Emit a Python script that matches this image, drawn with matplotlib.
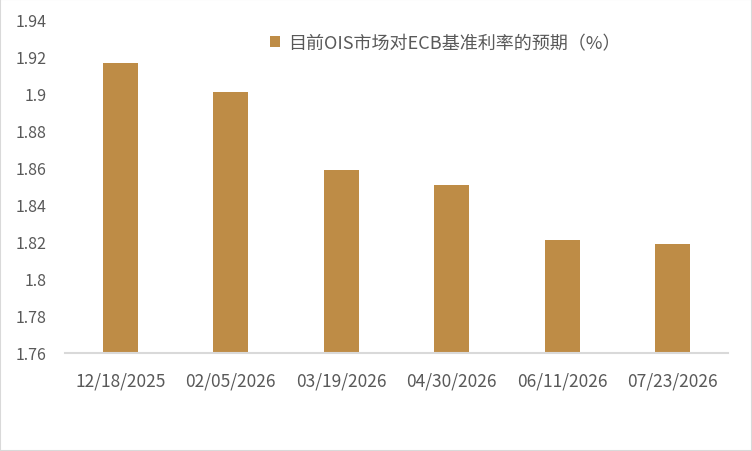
import matplotlib
matplotlib.use("Agg")
import matplotlib.pyplot as plt
from matplotlib.patches import Rectangle

plt.rcParams['font.family'] = ['Noto Sans CJK SC', 'DejaVu Sans']

categories = ["12/18/2025", "02/05/2026", "03/19/2026", "04/30/2026", "06/11/2026", "07/23/2026"]
values = [1.917, 1.901, 1.859, 1.851, 1.821, 1.819]
series_name = "目前OIS市场对ECB基准利率的预期（%）"
yticks = [1.76, 1.78, 1.80, 1.82, 1.84, 1.86, 1.88, 1.90, 1.92, 1.94]
ytick_labels = ["1.76", "1.78", "1.8", "1.82", "1.84", "1.86", "1.88", "1.9", "1.92", "1.94"]

bar_color = "#BE8C46"
text_color = "#595959"

fig = plt.figure(figsize=(7.52, 4.52), dpi=100)
fig.patches.append(Rectangle((0, 0), 1, 1, transform=fig.transFigure, fill=False,
                             edgecolor="#D9D9D9", linewidth=1.5))
ax = fig.add_axes([65/752, 1-354/452, (728-65)/752, (354-21)/452])

x = list(range(len(categories)))
ax.bar(x, values, width=0.315, color=bar_color, label=series_name)
ax.set_xlim(-0.5, len(categories) - 0.5)
ax.set_ylim(1.76, 1.94)
ax.set_yticks(yticks)
ax.set_yticklabels(ytick_labels)
ax.set_xticks(x)
ax.set_xticklabels(categories)
ax.tick_params(axis='both', length=0, colors=text_color)
ax.tick_params(axis='x', pad=13, labelsize=12.5)
ax.tick_params(axis='y', pad=13, labelsize=11.5)
for s in ["top", "right", "left"]:
    ax.spines[s].set_visible(False)
ax.spines["bottom"].set_color("#D9D9D9")
ax.spines["bottom"].set_linewidth(1.5)

leg = ax.legend(loc="center left", bbox_to_anchor=(270/752, 1-44/452), bbox_transform=fig.transFigure,
                frameon=False, handlelength=0.58, handleheight=0.58, handletextpad=0.45,
                borderpad=0, borderaxespad=0, fontsize=13)
for t in leg.get_texts():
    t.set_color(text_color)

fig.savefig("out.png", dpi=100)
